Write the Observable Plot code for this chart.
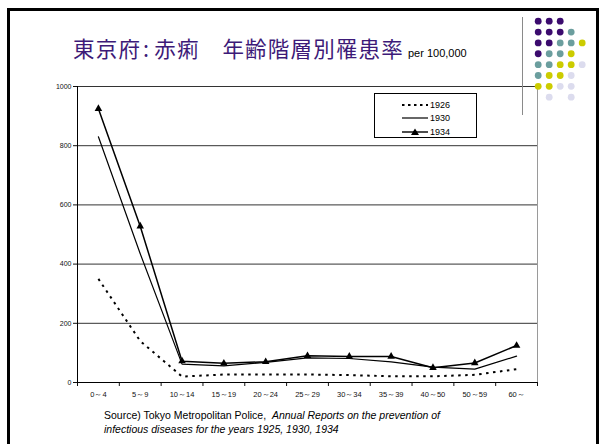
<!DOCTYPE html>
<html>
<head>
<meta charset="utf-8">
<script src="https://cdn.jsdelivr.net/npm/d3@7"></script>
<script src="https://cdn.jsdelivr.net/npm/@observablehq/plot@0.6"></script>
<style>
  html, body { margin: 0; padding: 0; background: #fff; }
  #wrap { position: relative; width: 607px; height: 444px; overflow: hidden; background: #fff; }
  .abs { position: absolute; }
  #frame { left: 7px; top: 8px; width: 592px; height: 470px; border: 3.5px solid #000; box-sizing: border-box; }
  #vline { left: 521.5px; top: 17px; width: 1.3px; height: 98px; background: #8a8a8a; }
  #legend { left: 374px; top: 93px; width: 103px; height: 45px; border: 1px solid #000; box-sizing: border-box; background: #fff; }
  svg text { font-family: "Liberation Sans", Arial, sans-serif; }
</style>
</head>
<body>
<div id="wrap">
  <div id="chart" class="abs" style="left:0;top:0"></div>
  <div id="dots" class="abs" style="left:520px;top:10px"></div>
  <div id="vline" class="abs"></div>
  <div id="frame" class="abs"></div>
  <svg class="abs" style="left:0;top:0" width="607" height="444">
    <text x="73" y="57" fill="#3d1a78" style="font-family:'Noto Sans CJK JP','Noto Sans CJK SC',sans-serif;font-size:21.5px;letter-spacing:1.2px">東京府<tspan dx="2">:</tspan><tspan dx="4">赤痢</tspan>　年齢階層別罹患率</text>
    <text x="408" y="57" fill="#000" style="font-size:11px">per 100,000</text>
    <text x="104" y="419" fill="#000" style="font-size:10.5px" xml:space="preserve">Source) Tokyo Metropolitan Police,  <tspan font-style="italic">Annual Reports on the prevention of</tspan></text>
    <text x="104" y="433" fill="#000" style="font-size:10.5px;font-style:italic">infectious diseases for the years 1925, 1930, 1934</text>
  </svg>
  <div id="legend" class="abs">
    <svg width="101" height="43">
      <line x1="27" x2="53" y1="11" y2="11" stroke="#000" stroke-width="2" stroke-dasharray="2.5,3.5"></line>
      <text x="55" y="14.3" font-size="9">1926</text>
      <line x1="27" x2="53" y1="24" y2="24" stroke="#000" stroke-width="1.2"></line>
      <text x="55" y="27.3" font-size="9">1930</text>
      <line x1="27" x2="53" y1="38" y2="38" stroke="#000" stroke-width="1.4"></line>
      <path d="M40,34.5L44,41L36,41Z" fill="#000"></path>
      <text x="55" y="41.3" font-size="9">1934</text>
    </svg>
  </div>
</div>
<script>
// ---- data ----
const ages = ["0～4","5～9","10～14","15～19","20～24","25～29","30～34","35～39","40～50","50～59","60～"];
const rate1926 = [350, 140, 20, 27, 27, 27, 25, 21, 21, 26, 45];
const rate1930 = [830, 435, 62, 56, 68, 83, 81, 70, 52, 45, 89];
const rate1934 = [925, 528, 72, 65, 70, 90, 88, 88, 50, 66, 125];
const yTicks = [0, 200, 400, 600, 800, 1000];

// decorative dot pattern (template ornament)
const dotRows = ["ppp", "pppt", "pptty", "ptty", "ttyyl", "tyyl", "yyll", ".l.l"];
const dotKeys = ["p", "t", "y", "l"];
const dotPalette = ["#3b0b6e", "#6b9e9e", "#cccc00", "#dcdcee"];

// ---- build tables ----
const series = (vals) => vals.map((v, i) => ({age: ages[i], i: i + 0.5, v}));
const s26 = series(rate1926), s30 = series(rate1930), s34 = series(rate1934);
const boundaries = d3.range(0, ages.length + 1);

const chart = Plot.plot({
  width: 607,
  height: 444,
  marginLeft: 77,
  marginRight: 70,
  marginTop: 86,
  marginBottom: 62,
  style: {fontFamily: "'Liberation Sans', Arial, sans-serif", fontSize: "7px", color: "#111", background: "transparent", overflow: "visible"},
  x: {domain: [0, ages.length], ticks: boundaries, tickFormat: () => "", tickSize: 4, label: null},
  y: {domain: [0, 1000], ticks: yTicks, tickFormat: d => String(d), tickSize: 4, tickPadding: 2, label: null},
  marks: [
    Plot.ruleY(yTicks.filter(d => d > 0), {stroke: "#333", strokeWidth: 1}),
    Plot.ruleX([ages.length], {stroke: "#9a9a9a", strokeWidth: 1}),
    Plot.ruleX([0], {stroke: "#000", strokeWidth: 1}),
    Plot.ruleY([0], {stroke: "#000", strokeWidth: 1}),
    Plot.line(s26, {x: "i", y: "v", stroke: "#000", strokeWidth: 2, strokeDasharray: "2.5,4.5", strokeLinecap: "butt"}),
    Plot.line(s30, {x: "i", y: "v", stroke: "#000", strokeWidth: 1.2}),
    Plot.line(s34, {x: "i", y: "v", stroke: "#000", strokeWidth: 1.5}),
    Plot.dot(s34, {x: "i", y: "v", symbol: "triangle", fill: "#000", r: 2.8}),
    Plot.text(ages, {x: (d, i) => i + 0.5, y: () => 0, text: d => d, dy: 12, fontSize: 7.5, fill: "#111"})
  ]
});
document.getElementById("chart").appendChild(chart);

// ornament dots
const dots = [];
dotRows.forEach((row, r) => row.split("").forEach((k, c) => { if (k !== ".") dots.push({row: r + 1, col: c + 1, key: k}); }));
const dotPlot = Plot.plot({
  width: 80, height: 100,
  marginLeft: 17.7, marginRight: 18.3, marginTop: 10.7, marginBottom: 13.3,
  style: {background: "transparent", overflow: "visible"},
  x: {domain: [1, 5], axis: null},
  y: {domain: [8, 1], axis: null},
  color: {domain: dotKeys, range: dotPalette},
  marks: [Plot.dot(dots, {x: "col", y: "row", fill: "key", r: 3.4})]
});
document.getElementById("dots").appendChild(dotPlot);
</script>
</body>
</html>
